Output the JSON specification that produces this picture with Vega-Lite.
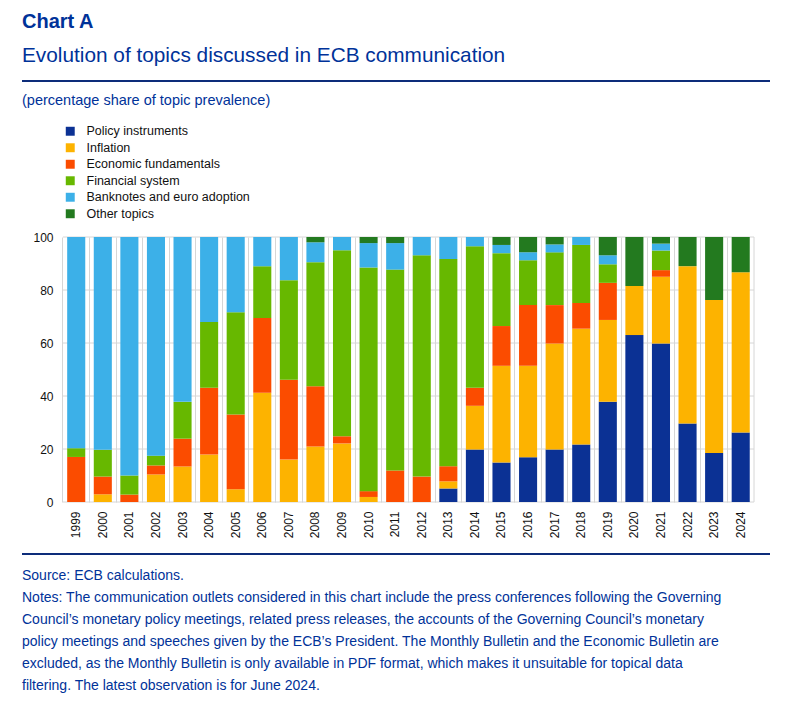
{
  "$schema": "https://vega.github.io/schema/vega-lite/v6.json",
  "padding": {"left": 22, "top": 12, "right": 0, "bottom": 0},
  "background": "white",
  "config": {
    "font": "Liberation Sans, Arial, sans-serif"
  },
  "title": {
    "text": "Chart A",
    "subtitle": "Evolution of topics discussed in ECB communication",
    "anchor": "start",
    "frame": "bounds",
    "fontSize": 20,
    "fontWeight": "bold",
    "color": "#003299",
    "subtitleFontSize": 20.8,
    "subtitleColor": "#003299",
    "subtitlePadding": 14,
    "offset": 14
  },
  "columns": 1,
  "align": "none",
  "spacing": 10,
  "resolve": {"legend": {"color": "independent"}},
  "concat": [
    {
      "width": 748,
      "height": 2,
      "data": {"values": []},
      "view": {"fill": "#0d2c7a", "stroke": null},
      "mark": {"type": "rule"},
      "encoding": {}
    },
    {
      "width": 732,
      "height": 265,
      "title": {
        "text": "(percentage share of topic prevalence)",
        "anchor": "start",
        "frame": "group",
        "fontSize": 14.5,
        "fontWeight": "normal",
        "color": "#003299",
        "offset": 17
      },
      "view": {"stroke": null},
      "layer": [
        {
          "data": {"values": [{"tick": 0}, {"tick": 20}, {"tick": 40}, {"tick": 60}, {"tick": 80}, {"tick": 100}]},
          "mark": {"type": "rule", "color": "#d6d6d6", "strokeWidth": 1},
          "encoding": {
            "y": {"field": "tick", "type": "quantitative"},
            "x": {"datum": "1999", "type": "ordinal", "bandPosition": 0},
            "x2": {"datum": "2024", "bandPosition": 1}
          }
        },
        {
          "data": {"values": [{}]},
          "mark": {"type": "rule", "color": "#d6d6d6", "strokeWidth": 1},
          "encoding": {
            "x": {"datum": "2024", "type": "ordinal", "bandPosition": 1},
            "y": {"datum": 0, "type": "quantitative"},
            "y2": {"datum": 100}
          }
        },
        {
          "data": {
            "values": [
              {"year": "1999", "topic": "Economic fundamentals", "value": 17.0},
              {"year": "1999", "topic": "Financial system", "value": 3.3},
              {"year": "1999", "topic": "Banknotes and euro adoption", "value": 79.7},
              {"year": "2000", "topic": "Inflation", "value": 2.9},
              {"year": "2000", "topic": "Economic fundamentals", "value": 6.7},
              {"year": "2000", "topic": "Financial system", "value": 10.1},
              {"year": "2000", "topic": "Banknotes and euro adoption", "value": 80.3},
              {"year": "2001", "topic": "Economic fundamentals", "value": 2.8},
              {"year": "2001", "topic": "Financial system", "value": 7.2},
              {"year": "2001", "topic": "Banknotes and euro adoption", "value": 90.0},
              {"year": "2002", "topic": "Inflation", "value": 10.4},
              {"year": "2002", "topic": "Economic fundamentals", "value": 3.4},
              {"year": "2002", "topic": "Financial system", "value": 3.7},
              {"year": "2002", "topic": "Banknotes and euro adoption", "value": 82.5},
              {"year": "2003", "topic": "Inflation", "value": 13.4},
              {"year": "2003", "topic": "Economic fundamentals", "value": 10.5},
              {"year": "2003", "topic": "Financial system", "value": 13.9},
              {"year": "2003", "topic": "Banknotes and euro adoption", "value": 62.2},
              {"year": "2004", "topic": "Inflation", "value": 17.9},
              {"year": "2004", "topic": "Economic fundamentals", "value": 25.2},
              {"year": "2004", "topic": "Financial system", "value": 24.8},
              {"year": "2004", "topic": "Banknotes and euro adoption", "value": 32.1},
              {"year": "2005", "topic": "Inflation", "value": 4.8},
              {"year": "2005", "topic": "Economic fundamentals", "value": 28.2},
              {"year": "2005", "topic": "Financial system", "value": 38.6},
              {"year": "2005", "topic": "Banknotes and euro adoption", "value": 28.4},
              {"year": "2006", "topic": "Inflation", "value": 41.2},
              {"year": "2006", "topic": "Economic fundamentals", "value": 28.2},
              {"year": "2006", "topic": "Financial system", "value": 19.6},
              {"year": "2006", "topic": "Banknotes and euro adoption", "value": 11.0},
              {"year": "2007", "topic": "Inflation", "value": 16.0},
              {"year": "2007", "topic": "Economic fundamentals", "value": 30.1},
              {"year": "2007", "topic": "Financial system", "value": 37.6},
              {"year": "2007", "topic": "Banknotes and euro adoption", "value": 16.3},
              {"year": "2008", "topic": "Inflation", "value": 20.9},
              {"year": "2008", "topic": "Economic fundamentals", "value": 22.8},
              {"year": "2008", "topic": "Financial system", "value": 46.8},
              {"year": "2008", "topic": "Banknotes and euro adoption", "value": 7.5},
              {"year": "2008", "topic": "Other topics", "value": 2.0},
              {"year": "2009", "topic": "Inflation", "value": 22.1},
              {"year": "2009", "topic": "Economic fundamentals", "value": 2.7},
              {"year": "2009", "topic": "Financial system", "value": 70.2},
              {"year": "2009", "topic": "Banknotes and euro adoption", "value": 5.0},
              {"year": "2010", "topic": "Inflation", "value": 1.9},
              {"year": "2010", "topic": "Economic fundamentals", "value": 2.2},
              {"year": "2010", "topic": "Financial system", "value": 84.4},
              {"year": "2010", "topic": "Banknotes and euro adoption", "value": 9.2},
              {"year": "2010", "topic": "Other topics", "value": 2.3},
              {"year": "2011", "topic": "Economic fundamentals", "value": 11.9},
              {"year": "2011", "topic": "Financial system", "value": 75.8},
              {"year": "2011", "topic": "Banknotes and euro adoption", "value": 10.0},
              {"year": "2011", "topic": "Other topics", "value": 2.3},
              {"year": "2012", "topic": "Economic fundamentals", "value": 9.6},
              {"year": "2012", "topic": "Financial system", "value": 83.5},
              {"year": "2012", "topic": "Banknotes and euro adoption", "value": 6.9},
              {"year": "2013", "topic": "Policy instruments", "value": 5.1},
              {"year": "2013", "topic": "Inflation", "value": 2.7},
              {"year": "2013", "topic": "Economic fundamentals", "value": 5.7},
              {"year": "2013", "topic": "Financial system", "value": 78.2},
              {"year": "2013", "topic": "Banknotes and euro adoption", "value": 8.3},
              {"year": "2014", "topic": "Policy instruments", "value": 19.8},
              {"year": "2014", "topic": "Inflation", "value": 16.5},
              {"year": "2014", "topic": "Economic fundamentals", "value": 6.8},
              {"year": "2014", "topic": "Financial system", "value": 53.4},
              {"year": "2014", "topic": "Banknotes and euro adoption", "value": 3.5},
              {"year": "2015", "topic": "Policy instruments", "value": 14.9},
              {"year": "2015", "topic": "Inflation", "value": 36.5},
              {"year": "2015", "topic": "Economic fundamentals", "value": 15.0},
              {"year": "2015", "topic": "Financial system", "value": 27.5},
              {"year": "2015", "topic": "Banknotes and euro adoption", "value": 3.1},
              {"year": "2015", "topic": "Other topics", "value": 3.0},
              {"year": "2016", "topic": "Policy instruments", "value": 16.9},
              {"year": "2016", "topic": "Inflation", "value": 34.5},
              {"year": "2016", "topic": "Economic fundamentals", "value": 22.9},
              {"year": "2016", "topic": "Financial system", "value": 16.9},
              {"year": "2016", "topic": "Banknotes and euro adoption", "value": 3.0},
              {"year": "2016", "topic": "Other topics", "value": 5.8},
              {"year": "2017", "topic": "Policy instruments", "value": 19.8},
              {"year": "2017", "topic": "Inflation", "value": 40.0},
              {"year": "2017", "topic": "Economic fundamentals", "value": 14.5},
              {"year": "2017", "topic": "Financial system", "value": 19.9},
              {"year": "2017", "topic": "Banknotes and euro adoption", "value": 3.0},
              {"year": "2017", "topic": "Other topics", "value": 2.8},
              {"year": "2018", "topic": "Policy instruments", "value": 21.7},
              {"year": "2018", "topic": "Inflation", "value": 43.7},
              {"year": "2018", "topic": "Economic fundamentals", "value": 9.7},
              {"year": "2018", "topic": "Financial system", "value": 21.9},
              {"year": "2018", "topic": "Banknotes and euro adoption", "value": 3.0},
              {"year": "2019", "topic": "Policy instruments", "value": 37.8},
              {"year": "2019", "topic": "Inflation", "value": 30.9},
              {"year": "2019", "topic": "Economic fundamentals", "value": 14.0},
              {"year": "2019", "topic": "Financial system", "value": 7.0},
              {"year": "2019", "topic": "Banknotes and euro adoption", "value": 3.4},
              {"year": "2019", "topic": "Other topics", "value": 6.9},
              {"year": "2020", "topic": "Policy instruments", "value": 63.0},
              {"year": "2020", "topic": "Inflation", "value": 18.5},
              {"year": "2020", "topic": "Other topics", "value": 18.5},
              {"year": "2021", "topic": "Policy instruments", "value": 59.8},
              {"year": "2021", "topic": "Inflation", "value": 25.2},
              {"year": "2021", "topic": "Economic fundamentals", "value": 2.5},
              {"year": "2021", "topic": "Financial system", "value": 7.4},
              {"year": "2021", "topic": "Banknotes and euro adoption", "value": 2.6},
              {"year": "2021", "topic": "Other topics", "value": 2.5},
              {"year": "2022", "topic": "Policy instruments", "value": 29.6},
              {"year": "2022", "topic": "Inflation", "value": 59.4},
              {"year": "2022", "topic": "Other topics", "value": 11.0},
              {"year": "2023", "topic": "Policy instruments", "value": 18.5},
              {"year": "2023", "topic": "Inflation", "value": 57.7},
              {"year": "2023", "topic": "Other topics", "value": 23.8},
              {"year": "2024", "topic": "Policy instruments", "value": 26.2},
              {"year": "2024", "topic": "Inflation", "value": 60.5},
              {"year": "2024", "topic": "Other topics", "value": 13.3}
            ]
          },
          "transform": [
            {"calculate": "indexof(['Policy instruments', 'Inflation', 'Economic fundamentals', 'Financial system', 'Banknotes and euro adoption', 'Other topics'], datum.topic)", "as": "stackOrder"}
          ],
          "mark": {"type": "bar", "width": {"band": 0.68}},
          "encoding": {
            "x": {
              "field": "year",
              "type": "ordinal",
              "scale": {"paddingInner": 0, "paddingOuter": 0.77, "align": 1},
              "axis": {
                "title": null,
                "labelAngle": -90,
                "labelFontSize": 12,
                "labelColor": "#111111",
                "labelPadding": 9,
                "ticks": false,
                "domain": false,
                "grid": true,
                "gridColor": "#d6d6d6",
                "bandPosition": 0,
                "minExtent": 41,
                "maxExtent": 41
              }
            },
            "y": {
              "field": "value",
              "type": "quantitative",
              "stack": "zero",
              "scale": {"domain": [0, 100], "nice": false},
              "axis": {
                "title": null,
                "values": [0, 20, 40, 60, 80, 100],
                "labelFontSize": 12,
                "labelColor": "#111111",
                "labelPadding": 10,
                "ticks": false,
                "domain": false,
                "grid": false,
                "offset": -41,
                "minExtent": 0,
                "maxExtent": 0
              }
            },
            "color": {
              "field": "topic",
              "type": "nominal",
              "sort": ["Policy instruments", "Inflation", "Economic fundamentals", "Financial system", "Banknotes and euro adoption", "Other topics"],
              "scale": {
                "domain": ["Policy instruments", "Inflation", "Economic fundamentals", "Financial system", "Banknotes and euro adoption", "Other topics"],
                "range": ["#0b3194", "#fdb300", "#fb4c00", "#67b800", "#3cb0e8", "#237a1f"]
              },
              "legend": {
                "title": null,
                "orient": "none",
                "legendX": 42,
                "legendY": -112,
                "direction": "vertical",
                "padding": 0,
                "symbolType": "square",
                "symbolSize": 80,
                "symbolStrokeWidth": 0,
                "symbolOpacity": 1,
                "labelFontSize": 12.5,
                "labelColor": "#111111",
                "labelOffset": 10,
                "labelLimit": 300,
                "rowPadding": 3.5
              }
            },
            "order": {"field": "stackOrder", "type": "quantitative"}
          }
        }
      ]
    },
    {
      "width": 748,
      "height": 2,
      "data": {"values": []},
      "view": {"fill": "#0d2c7a", "stroke": null},
      "mark": {"type": "rule"},
      "encoding": {},
      "title": {
        "text": [
          "Source: ECB calculations.",
          "Notes: The communication outlets considered in this chart include the press conferences following the Governing",
          "Council’s monetary policy meetings, related press releases, the accounts of the Governing Council’s monetary",
          "policy meetings and speeches given by the ECB’s President. The Monthly Bulletin and the Economic Bulletin are",
          "excluded, as the Monthly Bulletin is only available in PDF format, which makes it unsuitable for topical data",
          "filtering. The latest observation is for June 2024."
        ],
        "orient": "bottom",
        "anchor": "start",
        "frame": "bounds",
        "fontSize": 14,
        "fontWeight": "normal",
        "lineHeight": 22,
        "color": "#003299",
        "offset": 14
      }
    }
  ]
}
